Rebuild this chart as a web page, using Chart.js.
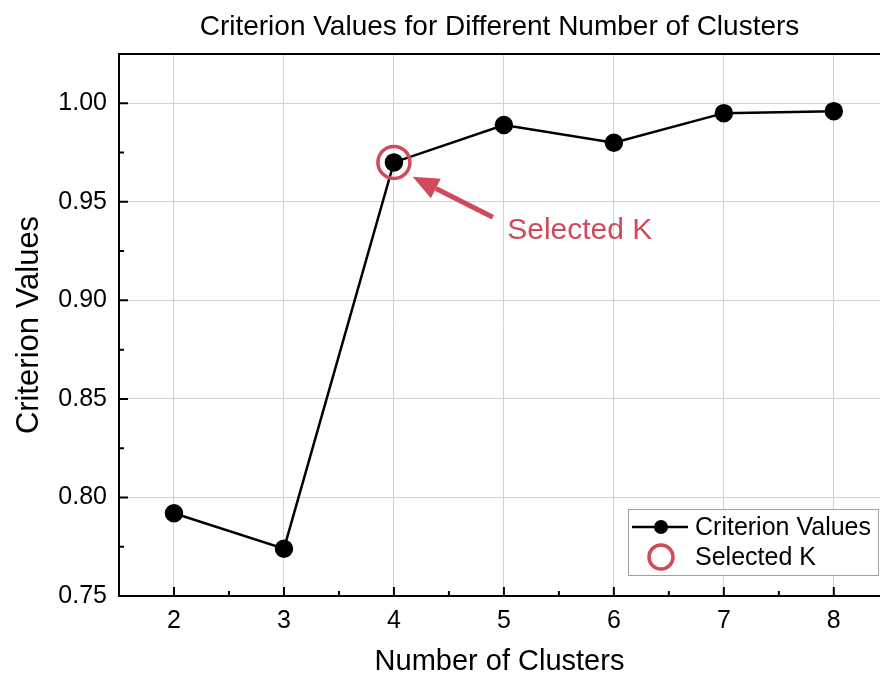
<!DOCTYPE html>
<html lang="en">
<head>
  <meta charset="UTF-8" />
  <title>Criterion Values for Different Number of Clusters</title>
  <script src="https://cdn.jsdelivr.net/npm/chart.js"></script>
  <style>
    body { margin: 0; background: #fff; overflow: hidden; }
    #chartContainer { width: 880px; height: 679px; position: relative; }
  </style>
</head>
<body>

<div id="chartContainer">
  <canvas id="kChart"></canvas>
</div>

<script>
  // data
  const clusters = [2, 3, 4, 5, 6, 7, 8];
  const criterionValues = [0.792, 0.774, 0.970, 0.989, 0.980, 0.995, 0.996];
  const selectedK = 4;
  const xTicks = [2, 3, 4, 5, 6, 7, 8];
  const yTicks = [0.75, 0.80, 0.85, 0.90, 0.95, 1.00];

  const FONT = "'Liberation Sans', Arial, sans-serif";
  const RED = '#d04a5c';

  const selIdx = clusters.indexOf(selectedK);

  // inward ticks, top frame line, arrow + label, legend box
  const decorations = {
    id: 'decorations',
    afterDraw(chart) {
      const { ctx, chartArea: a, scales: { x, y } } = chart;
      ctx.save();
      ctx.strokeStyle = '#000';
      ctx.lineWidth = 2;
      // top frame
      ctx.beginPath();
      ctx.moveTo(a.left - 1, a.top);
      ctx.lineTo(a.right, a.top);
      ctx.stroke();
      // x ticks (major + minor), pointing up
      ctx.beginPath();
      xTicks.forEach(v => {
        const px = x.getPixelForValue(v);
        ctx.moveTo(px, a.bottom); ctx.lineTo(px, a.bottom - 9);
        const mx = x.getPixelForValue(v + 0.5);
        if (mx < a.right) { ctx.moveTo(mx, a.bottom); ctx.lineTo(mx, a.bottom - 5); }
      });
      // y ticks, pointing right
      yTicks.forEach(v => {
        const py = y.getPixelForValue(v);
        ctx.moveTo(a.left, py); ctx.lineTo(a.left + 9, py);
        const my = y.getPixelForValue(v + 0.025);
        if (my > a.top) { ctx.moveTo(a.left, my); ctx.lineTo(a.left + 5, my); }
      });
      ctx.stroke();

      // arrow to selected K
      const tailX = x.getPixelForValue(4.9), tailY = y.getPixelForValue(0.9422);
      const tipX = x.getPixelForValue(4.17), tipY = y.getPixelForValue(0.9627);
      const ang = Math.atan2(tipY - tailY, tipX - tailX);
      const headLen = 26, headW = 11;
      const baseX = tipX - headLen * Math.cos(ang), baseY = tipY - headLen * Math.sin(ang);
      ctx.strokeStyle = RED;
      ctx.fillStyle = RED;
      ctx.lineWidth = 5;
      ctx.beginPath();
      ctx.moveTo(tailX, tailY);
      ctx.lineTo(baseX, baseY);
      ctx.stroke();
      ctx.beginPath();
      ctx.moveTo(tipX, tipY);
      ctx.lineTo(baseX + headW * Math.sin(ang), baseY - headW * Math.cos(ang));
      ctx.lineTo(baseX - headW * Math.sin(ang), baseY + headW * Math.cos(ang));
      ctx.closePath();
      ctx.fill();
      ctx.font = '30px ' + FONT;
      ctx.textBaseline = 'middle';
      ctx.textAlign = 'left';
      ctx.fillText('Selected K', x.getPixelForValue(5.03), y.getPixelForValue(0.9355));

      // legend box
      const bx = a.right - 252, by = a.bottom - 87, bw = 250, bh = 66;
      ctx.fillStyle = '#fff';
      ctx.fillRect(bx, by, bw, bh);
      ctx.strokeStyle = '#a0a0a0';
      ctx.lineWidth = 1;
      ctx.strokeRect(bx + 0.5, by + 0.5, bw, bh);
      const ds = chart.data.datasets;
      const row1 = by + 18, row2 = by + 48;
      ctx.strokeStyle = '#000';
      ctx.lineWidth = 2.5;
      ctx.beginPath();
      ctx.moveTo(bx + 4, row1); ctx.lineTo(bx + 60, row1);
      ctx.stroke();
      ctx.fillStyle = '#000';
      ctx.beginPath();
      ctx.arc(bx + 33, row1, 7, 0, Math.PI * 2);
      ctx.fill();
      ctx.strokeStyle = RED;
      ctx.lineWidth = 3.5;
      ctx.beginPath();
      ctx.arc(bx + 33, row2, 12, 0, Math.PI * 2);
      ctx.stroke();
      ctx.fillStyle = '#000';
      ctx.font = '25px ' + FONT;
      ctx.fillText(ds[0].label, bx + 67, row1 + 1);
      ctx.fillText(ds[1].label, bx + 67, row2 + 1);
      ctx.restore();
    }
  };

  const ctx = document.getElementById('kChart').getContext('2d');

  new Chart(ctx, {
    type: 'line',
    data: {
      datasets: [{
        label: 'Criterion Values',
        data: clusters.map((c, i) => ({ x: c, y: criterionValues[i] })),
        borderColor: '#000',
        backgroundColor: '#000',
        borderWidth: 2.5,
        pointRadius: 8,
        pointHoverRadius: 8,
        tension: 0,
        order: 2
      }, {
        label: 'Selected K',
        data: [{ x: selectedK, y: criterionValues[selIdx] }],
        showLine: false,
        borderColor: RED,
        backgroundColor: 'rgba(0,0,0,0)',
        borderWidth: 3.5,
        pointRadius: 16,
        pointHoverRadius: 16,
        order: 1
      }]
    },
    options: {
      responsive: true,
      maintainAspectRatio: false,
      animation: false,
      layout: { padding: 0, autoPadding: false },
      plugins: {
        legend: { display: false },
        tooltip: { enabled: false },
        title: {
          display: true,
          fullSize: false,
          text: 'Criterion Values for Different Number of Clusters',
          color: '#000',
          font: { family: FONT, size: 28, weight: 'normal' },
          padding: { top: 10, bottom: 10.4 }
        }
      },
      scales: {
        x: {
          type: 'linear',
          min: 1.5,
          max: 8.42,
          afterBuildTicks: s => { s.ticks = xTicks.map(v => ({ value: v })); },
          afterFit: s => { s.height = 83; },
          grid: { color: '#d2d2d2', lineWidth: 1, drawTicks: false },
          border: { color: '#000', width: 2 },
          ticks: { color: '#000', padding: 10, font: { family: FONT, size: 25 } },
          title: {
            display: true, text: 'Number of Clusters', color: '#000',
            font: { family: FONT, size: 29 }, padding: { top: 0, bottom: 0 }
          }
        },
        y: {
          min: 0.75,
          max: 1.025,
          afterBuildTicks: s => { s.ticks = yTicks.map(v => ({ value: v })); },
          afterFit: s => { s.width = 119; },
          grid: { color: '#d2d2d2', lineWidth: 1, drawTicks: false },
          border: { color: '#000', width: 2 },
          ticks: {
            color: '#000', padding: 12, font: { family: FONT, size: 25 },
            callback: v => v.toFixed(2)
          },
          title: {
            display: true, text: 'Criterion Values', color: '#000',
            font: { family: FONT, size: 31 }, padding: { top: 11, bottom: 0 }
          }
        }
      }
    },
    plugins: [decorations]
  });
</script>

</body>
</html>
